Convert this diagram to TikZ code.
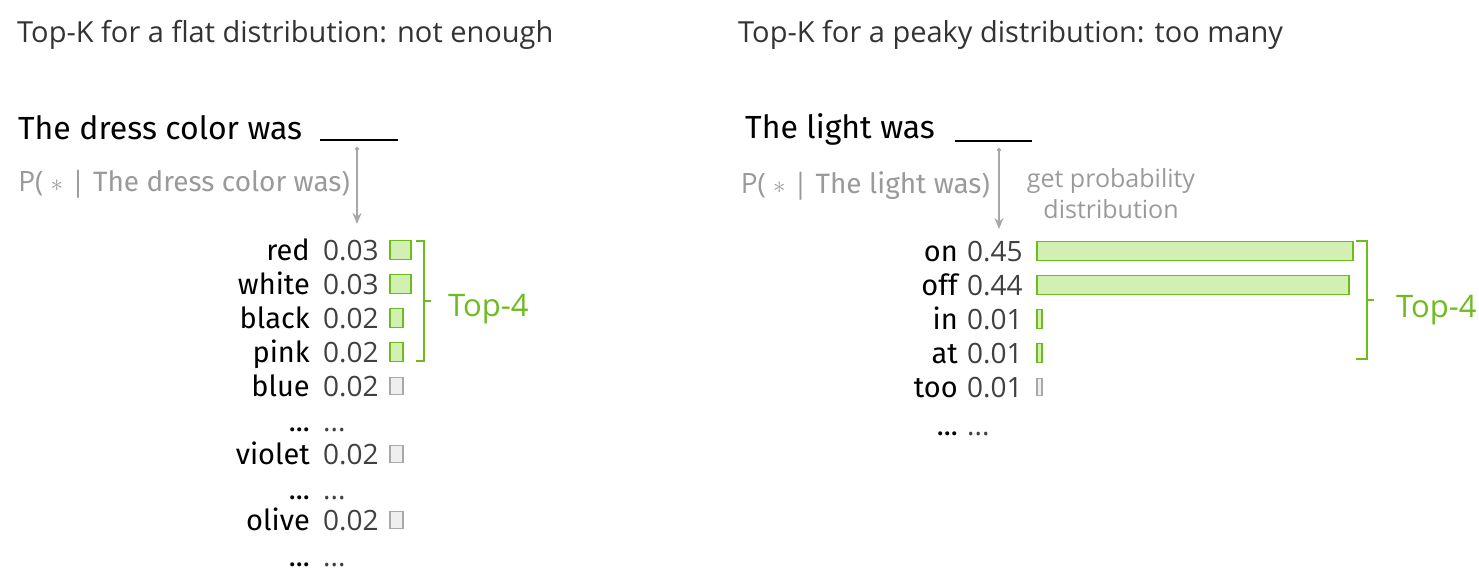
\documentclass[tikz,border=0pt]{standalone}
\usepackage{fontspec}
\setmainfont{Open Sans}
\newfontfamily\wordfont{Fira Sans}
\usetikzlibrary{arrows.meta,positioning,calc}
\definecolor{topgreen}{HTML}{6CBB1F}
\definecolor{topfill}{HTML}{D3F0B3}
\definecolor{restgray}{HTML}{A8A8A8}
\definecolor{restfill}{HTML}{EFEFEF}
\definecolor{notegray}{HTML}{9A9A9A}
\tikzset{
  title/.style={anchor=west,inner sep=0pt,font=\fontsize{29}{32}\selectfont,text=black!80},
  sentence/.style={anchor=west,inner sep=0pt,font=\wordfont\fontsize{32}{36}\selectfont},
  cond/.style={anchor=east,inner sep=0pt,font=\fontsize{28}{30}\selectfont,text=notegray},
  word/.style={anchor=east,inner sep=0pt,yshift=-3pt,text height=20pt,text depth=5pt,font=\wordfont\fontsize{29}{30}\selectfont},
  prob/.style={anchor=west,inner sep=0pt,yshift=-3pt,text height=20pt,text depth=5pt,font=\fontsize{28}{30}\selectfont,text=black!75},
  topbar/.style={draw=topgreen,fill=topfill,line width=1.8pt,anchor=west,inner sep=0pt,minimum height=19},
  restbar/.style={draw=restgray,fill=restfill,line width=1.8pt,anchor=west,inner sep=0pt,minimum height=17},
  brace/.style={draw=topgreen,line width=1.6pt},
  toplabel/.style={anchor=west,inner sep=0pt,text=topgreen,font=\fontsize{31}{34}\selectfont},
  probarrow/.style={draw=restgray,line width=1.8pt,{Circle[length=4pt]}-{Stealth[length=11pt,width=9pt]}}
}
\begin{document}
\begin{tikzpicture}[x=1pt,y=-1pt]
  \useasboundingbox (0,0) rectangle (1479,576);

  % Left: flat distribution
  \node[title] (tl) at (17,35) {Top-K for a flat distribution: not enough};
  \node[sentence] (sl) at (18,128) {The dress color was};
  \coordinate (bl1) at (320,140); \coordinate (bl2) at (398,140);
  \draw[line width=2pt] (bl1) -- (bl2);
  \coordinate (al) at (357,147); \coordinate (ael) at (357,224);
  \draw[probarrow] (al) -- (ael);
  \node[cond] (cl) at (350,184) {P( $*$ | {\wordfont The dress color was})};

  \foreach \w/\p/\len/\y/\s [count=\i] in {red/0.03/21/250/topbar, white/0.03/21/284/topbar,
      black/0.02/13/318/topbar, pink/0.02/13/352/topbar, blue/0.02/13/386/restbar,
      violet/0.02/13/454/restbar, olive/0.02/13/520/restbar}{
    \node[word] (lw\i) at (310,\y) {\w};
    \node[prob] (lp\i) at (323,\y) {\p};
    \node[\s,minimum width=\len] (lb\i) at (389,\y) {};
  }
  \foreach \y [count=\i] in {421,489,556}{
    \node[word] (ld\i) at (310,\y) {...};
    \node[prob] (le\i) at (323,\y) {...};
  }

  % Left bracket
  \coordinate (lt) at (416,241); \coordinate (lbt) at (416,361);
  \draw[brace] (lt) -- ++(8,0) |- (lbt);
  \draw[brace] (424,301) -- ++(7,0) coordinate (lm);
  \node[toplabel] (lk) at (448,309) {Top-4};

  % Right: peaky distribution
  \node[title] (tr) at (738,35) {Top-K for a peaky distribution: too many};
  \node[sentence] (sr) at (745,129) {The light was};
  \coordinate (br1) at (955,141); \coordinate (br2) at (1032,141);
  \draw[line width=2pt] (br1) -- (br2);
  \coordinate (ar) at (999,148); \coordinate (aer) at (999,229);
  \draw[probarrow] (ar) -- (aer);
  \node[cond] (cr) at (990,186) {P( $*$ | {\wordfont The light was})};
  \node[inner sep=0pt,text=notegray,align=center,font=\fontsize{25}{31}\selectfont] (gp) at (1111,194) {get probability\\distribution};

  \foreach \w/\p/\len/\y/\s [count=\i] in {on/0.45/316/251/topbar, off/0.44/312/285/topbar,
      in/0.01/5/319/topbar, at/0.01/5/353/topbar, too/0.01/5/387/restbar}{
    \node[word] (rw\i) at (958,\y) {\w};
    \node[prob] (rp\i) at (967,\y) {\p};
    \node[\s,minimum width=\len] (rb\i) at (1036,\y) {};
  }
  \node[word] (rd) at (958,425) {...};
  \node[prob] (re) at (967,425) {...};

  % Right bracket
  \coordinate (rt) at (1356,241); \coordinate (rbt) at (1356,359);
  \draw[brace] (rt) -- ++(11,0) |- (rbt);
  \draw[brace] (1367,300) -- ++(7,0) coordinate (rm);
  \node[toplabel] (rk) at (1396,310) {Top-4};
\end{tikzpicture}
\end{document}
